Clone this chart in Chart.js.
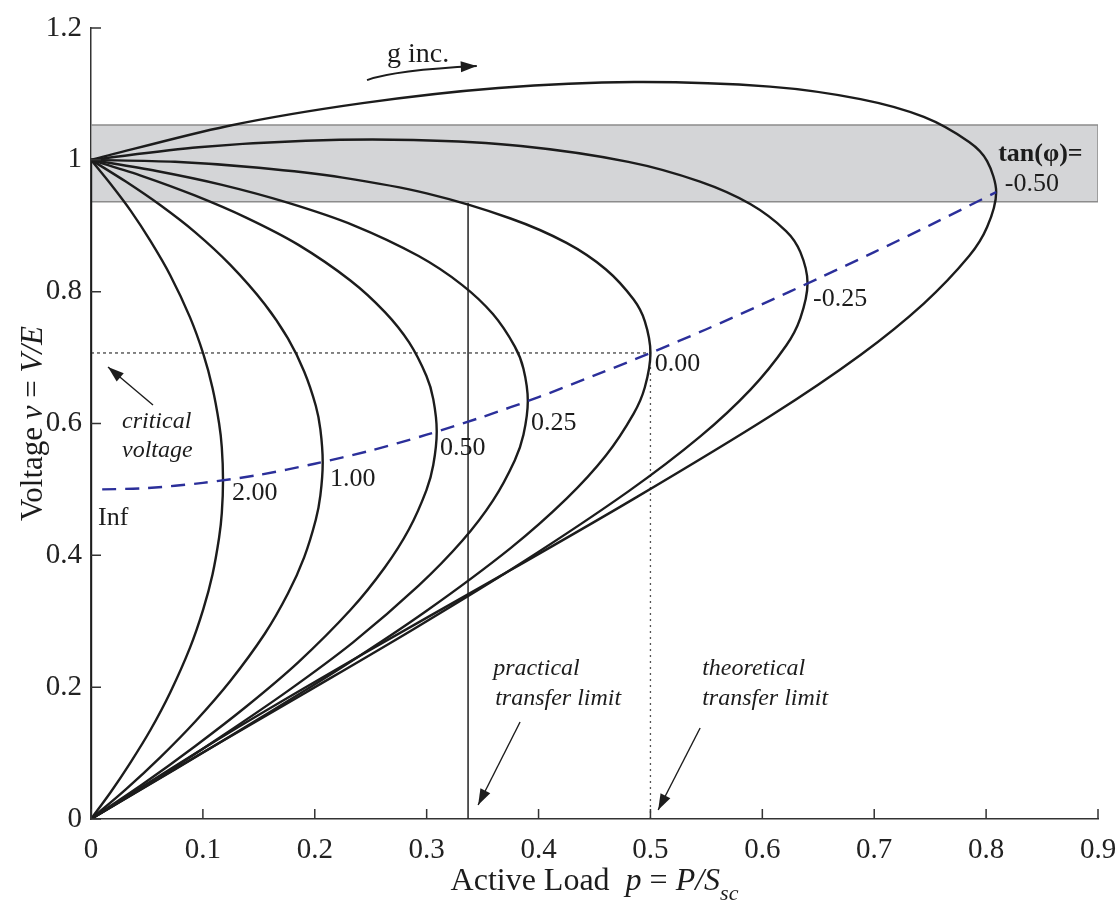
<!DOCTYPE html>
<html>
<head>
<meta charset="utf-8">
<title>Voltage vs active load</title>
<script src="https://cdn.jsdelivr.net/npm/chart.js@4.4.1/dist/chart.umd.min.js"></script>
<style>
  html, body { margin: 0; padding: 0; background: #fff; }
  #wrap { width: 1119px; height: 900px; position: relative; }
</style>
</head>
<body>
<div id="wrap"><canvas id="pvChart"></canvas></div>
<script>
// ticks
const xTickValues = [0, 0.1, 0.2, 0.3, 0.4, 0.5, 0.6, 0.7, 0.8, 0.9];
const xTickLabels = ["0", "0.1", "0.2", "0.3", "0.4", "0.5", "0.6", "0.7", "0.8", "0.9"];
const yTickValues = [0, 0.2, 0.4, 0.6, 0.8, 1, 1.2];
const yTickLabels = ["0", "0.2", "0.4", "0.6", "0.8", "1", "1.2"];

// nose curves: load p and voltage v along each curve
const loadTanInf = [0, 0];
const voltTanInf = [1, 0];

const loadTan2 = [0, 0.0177, 0.0354, 0.0531, 0.0708, 0.0885, 0.1003, 0.1086, 0.1145, 0.1169, 0.118, 0.1169, 0.1145, 0.1086, 0.1003, 0.0885, 0.0708, 0.0531, 0.0354, 0.0177, 0];
const voltTan2 = [1, 0.963, 0.923, 0.877, 0.825, 0.761, 0.706, 0.654, 0.6, 0.564, 0.514, 0.464, 0.427, 0.371, 0.318, 0.26, 0.192, 0.135, 0.086, 0.041, 0];

const loadTan1 = [0, 0.0311, 0.0621, 0.0932, 0.1243, 0.1553, 0.176, 0.1905, 0.2009, 0.205, 0.2071, 0.205, 0.2009, 0.1905, 0.176, 0.1553, 0.1243, 0.0932, 0.0621, 0.0311, 0];
const voltTan1 = [1, 0.967, 0.931, 0.89, 0.841, 0.781, 0.729, 0.679, 0.627, 0.591, 0.541, 0.491, 0.454, 0.397, 0.342, 0.281, 0.209, 0.148, 0.094, 0.045, 0];

const loadTan050 = [0, 0.0464, 0.0927, 0.1391, 0.1854, 0.2318, 0.2627, 0.2843, 0.2998, 0.3059, 0.309, 0.3059, 0.2998, 0.2843, 0.2627, 0.2318, 0.1854, 0.1391, 0.0927, 0.0464, 0];
const voltTan050 = [1, 0.975, 0.946, 0.912, 0.871, 0.817, 0.769, 0.723, 0.672, 0.637, 0.588, 0.537, 0.499, 0.44, 0.382, 0.317, 0.238, 0.171, 0.11, 0.053, 0];

const loadTan025 = [0, 0.0586, 0.1171, 0.1757, 0.2342, 0.2928, 0.3318, 0.3592, 0.3787, 0.3865, 0.3904, 0.3865, 0.3787, 0.3592, 0.3318, 0.2928, 0.2342, 0.1757, 0.1171, 0.0586, 0];
const voltTan025 = [1, 0.983, 0.962, 0.935, 0.901, 0.854, 0.81, 0.766, 0.717, 0.683, 0.634, 0.583, 0.544, 0.483, 0.422, 0.354, 0.268, 0.194, 0.126, 0.061, 0];

const loadTan000 = [0, 0.075, 0.15, 0.225, 0.3, 0.375, 0.425, 0.46, 0.485, 0.495, 0.5, 0.495, 0.485, 0.46, 0.425, 0.375, 0.3, 0.225, 0.15, 0.075, 0];
const voltTan000 = [1, 0.997, 0.988, 0.973, 0.949, 0.911, 0.874, 0.834, 0.788, 0.755, 0.707, 0.655, 0.615, 0.551, 0.486, 0.411, 0.316, 0.231, 0.152, 0.075, 0];

const loadTanM025 = [0, 0.0961, 0.1921, 0.2882, 0.3842, 0.4803, 0.5443, 0.5892, 0.6212, 0.634, 0.6404, 0.634, 0.6212, 0.5892, 0.5443, 0.4803, 0.3842, 0.2882, 0.1921, 0.0961, 0];
const voltTanM025 = [1, 1.019, 1.029, 1.03, 1.021, 0.997, 0.967, 0.933, 0.892, 0.86, 0.813, 0.76, 0.718, 0.651, 0.58, 0.497, 0.388, 0.288, 0.192, 0.097, 0];

const loadTanM050 = [0, 0.1214, 0.2427, 0.3641, 0.4854, 0.6068, 0.6877, 0.7443, 0.7848, 0.8009, 0.809, 0.8009, 0.7848, 0.7443, 0.6877, 0.6068, 0.4854, 0.3641, 0.2427, 0.1214, 0];
const voltTanM050 = [1, 1.051, 1.086, 1.109, 1.118, 1.111, 1.092, 1.065, 1.027, 0.998, 0.951, 0.898, 0.854, 0.782, 0.704, 0.611, 0.486, 0.367, 0.25, 0.129, 0];

// critical voltage locus (blue dashed)
const loadCritical = [0.01, 0.05, 0.1, 0.15, 0.2, 0.25, 0.3, 0.35, 0.4, 0.45, 0.5, 0.55, 0.6, 0.65, 0.7, 0.75, 0.809];
const voltCritical = [0.5, 0.502, 0.51, 0.522, 0.539, 0.559, 0.583, 0.61, 0.64, 0.673, 0.707, 0.743, 0.781, 0.82, 0.86, 0.901, 0.951];

// grey voltage band and limit lines
const loadBand = [0, 0.9, 0.9, 0, 0];
const voltBand = [1.053, 1.053, 0.9365, 0.9365, 1.053];
const loadPractical = [0.337, 0.337];
const voltPractical = [0, 0.935];
const loadTheoretical = [0.5, 0.5];
const voltTheoretical = [0, 0.707];
const loadCritLevel = [0, 0.5];
const voltCritLevel = [0.707, 0.707];

const curveLabels = ["Inf", "2.00", "1.00", "0.50", "0.25", "0.00", "-0.25", "-0.50"];

const SERIF = "'Liberation Serif', 'Times New Roman', serif";
const INK = "#1c1c1c";

// where the texts sit, in data units (left / baseline)
const curveLabelAnchors = [
  [0.0063, 0.446], [0.1261, 0.484], [0.2137, 0.505], [0.312, 0.552],
  [0.3933, 0.59], [0.5038, 0.679], [0.6453, 0.778], [0.8167, 0.952]
];
const notes = [
  { text: "g inc.", at: [0.2646, 1.148], font: `28px ${SERIF}` },
  { text: "tan(φ)=", at: [0.8108, 0.998], font: `bold 26px ${SERIF}` },
  { text: "critical", at: [0.0277, 0.593], font: `italic 24px ${SERIF}` },
  { text: "voltage", at: [0.0277, 0.549], font: `italic 24px ${SERIF}` },
  { text: "practical", at: [0.3594, 0.218], font: `italic 24px ${SERIF}` },
  { text: "transfer limit", at: [0.3612, 0.173], font: `italic 24px ${SERIF}` },
  { text: "theoretical", at: [0.5462, 0.218], font: `italic 24px ${SERIF}` },
  { text: "transfer limit", at: [0.5462, 0.173], font: `italic 24px ${SERIF}` }
];
const arrows = [
  { from: [0.0554, 0.628], to: [0.0152, 0.6857] },
  { from: [0.3835, 0.1471], to: [0.346, 0.0212] },
  { from: [0.5444, 0.138], to: [0.5069, 0.0137] }
];
const gIncArrow = { from: [0.2467, 1.121], ctrl: [0.2718, 1.1362], to: [0.3448, 1.1423] };

function toPoints(loads, volts) {
  return loads.map((p, i) => ({ x: p, y: volts[i] }));
}

function curve(loads, volts, order) {
  return {
    data: toPoints(loads, volts),
    showLine: true,
    borderColor: INK,
    borderWidth: 2.4,
    pointRadius: 0,
    tension: 0.3,
    order
  };
}

function arrowHead(ctx, x0, y0, x1, y1) {
  const ang = Math.atan2(y1 - y0, x1 - x0);
  const len = 16;
  const half = 5.5;
  ctx.beginPath();
  ctx.moveTo(x1, y1);
  ctx.lineTo(x1 - len * Math.cos(ang) + half * Math.sin(ang), y1 - len * Math.sin(ang) - half * Math.cos(ang));
  ctx.lineTo(x1 - len * Math.cos(ang) - half * Math.sin(ang), y1 - len * Math.sin(ang) + half * Math.cos(ang));
  ctx.closePath();
  ctx.fill();
}

function drawRuns(ctx, runs, cx, y) {
  let total = 0;
  runs.forEach((r) => {
    ctx.font = r.font;
    total += ctx.measureText(r.text).width;
  });
  let x = cx - total / 2;
  runs.forEach((r) => {
    ctx.font = r.font;
    ctx.fillText(r.text, x, y + (r.dy || 0));
    x += ctx.measureText(r.text).width;
  });
}

const decorations = {
  id: "decorations",
  afterDatasetsDraw(chart) {
    const { ctx, chartArea, scales: { x, y } } = chart;
    const px = (v) => x.getPixelForValue(v);
    const py = (v) => y.getPixelForValue(v);
    ctx.save();

    // inward tick marks
    ctx.strokeStyle = "#333";
    ctx.lineWidth = 1.5;
    ctx.beginPath();
    xTickValues.forEach((v) => {
      ctx.moveTo(px(v), chartArea.bottom);
      ctx.lineTo(px(v), chartArea.bottom - 10);
    });
    yTickValues.forEach((v) => {
      ctx.moveTo(chartArea.left, py(v));
      ctx.lineTo(chartArea.left + 10, py(v));
    });
    ctx.stroke();

    ctx.fillStyle = INK;
    ctx.textAlign = "left";
    ctx.textBaseline = "alphabetic";
    ctx.font = `26px ${SERIF}`;
    curveLabels.forEach((label, i) => {
      const [p, v] = curveLabelAnchors[i];
      ctx.fillText(label, px(p), py(v));
    });
    notes.forEach((n) => {
      ctx.font = n.font;
      ctx.fillText(n.text, px(n.at[0]), py(n.at[1]));
    });

    ctx.strokeStyle = INK;
    ctx.lineWidth = 1.4;
    arrows.forEach((a) => {
      const x0 = px(a.from[0]), y0 = py(a.from[1]);
      const x1 = px(a.to[0]), y1 = py(a.to[1]);
      ctx.beginPath();
      ctx.moveTo(x0, y0);
      ctx.lineTo(x1, y1);
      ctx.stroke();
      arrowHead(ctx, x0, y0, x1, y1);
    });

    const g = gIncArrow;
    ctx.lineWidth = 2;
    ctx.beginPath();
    ctx.moveTo(px(g.from[0]), py(g.from[1]));
    ctx.quadraticCurveTo(px(g.ctrl[0]), py(g.ctrl[1]), px(g.to[0]), py(g.to[1]));
    ctx.stroke();
    arrowHead(ctx, px(g.ctrl[0]), py(g.ctrl[1]), px(g.to[0]), py(g.to[1]));

    ctx.restore();
  },
  afterDraw(chart) {
    const { ctx, chartArea } = chart;
    ctx.save();
    ctx.fillStyle = INK;
    ctx.textAlign = "left";
    ctx.textBaseline = "alphabetic";
    const reg = `32px ${SERIF}`;
    const ita = `italic 32px ${SERIF}`;
    drawRuns(ctx, [
      { text: "Active Load  ", font: reg },
      { text: "p", font: ita },
      { text: " = ", font: reg },
      { text: "P/S", font: ita },
      { text: "sc", font: `italic 22px ${SERIF}`, dy: 10 }
    ], (chartArea.left + chartArea.right) / 2, 890);

    ctx.translate(42, (chartArea.top + chartArea.bottom) / 2);
    ctx.rotate(-Math.PI / 2);
    drawRuns(ctx, [
      { text: "Voltage ", font: `31px ${SERIF}` },
      { text: "ν", font: `italic 31px ${SERIF}` },
      { text: " = ", font: `31px ${SERIF}` },
      { text: "V/E", font: `italic 31px ${SERIF}` }
    ], 0, 0);
    ctx.restore();
  }
};

const datasets = [
  {
    data: toPoints(loadBand, voltBand),
    showLine: true,
    fill: "shape",
    backgroundColor: "#d4d5d7",
    borderColor: "#8c8c8c",
    borderWidth: 1.5,
    pointRadius: 0,
    tension: 0,
    order: 10
  },
  {
    data: toPoints(loadCritLevel, voltCritLevel),
    showLine: true,
    borderColor: "#333",
    borderWidth: 1.2,
    borderDash: [3, 3],
    pointRadius: 0,
    order: 5
  },
  {
    data: toPoints(loadTheoretical, voltTheoretical),
    showLine: true,
    borderColor: "#555",
    borderWidth: 1.3,
    borderDash: [2, 4],
    pointRadius: 0,
    order: 5
  },
  {
    data: toPoints(loadPractical, voltPractical),
    showLine: true,
    borderColor: "#222",
    borderWidth: 1.5,
    pointRadius: 0,
    order: 5
  },
  curve(loadTanInf, voltTanInf, 2),
  curve(loadTan2, voltTan2, 2),
  curve(loadTan1, voltTan1, 2),
  curve(loadTan050, voltTan050, 2),
  curve(loadTan025, voltTan025, 2),
  curve(loadTan000, voltTan000, 2),
  curve(loadTanM025, voltTanM025, 2),
  curve(loadTanM050, voltTanM050, 2),
  {
    data: toPoints(loadCritical, voltCritical),
    showLine: true,
    borderColor: "#2b2f9a",
    borderWidth: 2.4,
    borderDash: [14, 9],
    pointRadius: 0,
    tension: 0.3,
    order: 0
  }
];

new Chart(document.getElementById("pvChart"), {
  type: "scatter",
  data: { datasets },
  options: {
    responsive: true,
    maintainAspectRatio: false,
    animation: false,
    layout: { padding: { top: 28, right: 21, left: 0, bottom: 0 } },
    plugins: { legend: { display: false }, tooltip: { enabled: false } },
    scales: {
      x: {
        type: "linear",
        min: 0,
        max: 0.9,
        grid: { display: false },
        border: { display: true, color: "#333", width: 1.5 },
        ticks: {
          font: { family: SERIF, size: 29 },
          color: "#222",
          padding: 6,
          maxRotation: 0,
          autoSkip: false,
          callback: (value, index) => xTickLabels[index]
        },
        afterBuildTicks: (scale) => {
          scale.ticks = xTickValues.map((value) => ({ value }));
        },
        afterFit: (scale) => {
          scale.height = 81;
          scale.paddingLeft = 0;
          scale.paddingRight = 0;
        }
      },
      y: {
        type: "linear",
        min: 0,
        max: 1.2,
        grid: { display: false },
        border: { display: true, color: "#333", width: 1.5 },
        ticks: {
          font: { family: SERIF, size: 29 },
          color: "#222",
          padding: 1,
          autoSkip: false,
          callback: (value, index) => yTickLabels[index]
        },
        afterBuildTicks: (scale) => {
          scale.ticks = yTickValues.map((value) => ({ value }));
        },
        afterFit: (scale) => {
          scale.width = 91;
          scale.paddingTop = 0;
          scale.paddingBottom = 0;
        }
      }
    }
  },
  plugins: [decorations]
});
</script>
</body>
</html>
